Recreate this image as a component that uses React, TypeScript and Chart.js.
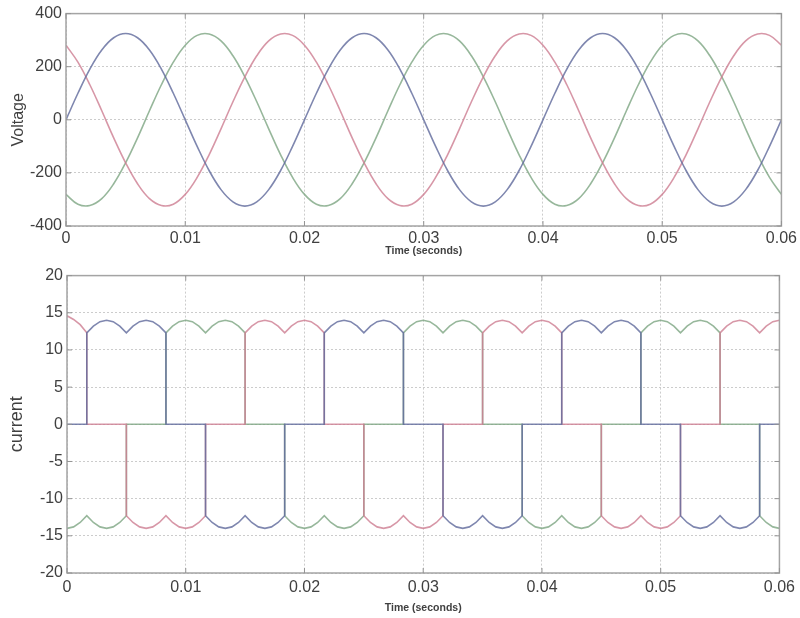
import React, { useEffect, useRef } from "react";
import { Chart, registerables } from "chart.js";

Chart.register(...registerables);

// ---------- Voltage (sampled every 1 ms) ----------
const VOLT_TIME_MS = [
  0, 1, 2, 3, 4, 5, 6, 7, 8, 9, 10, 11, 12, 13, 14, 15, 16, 17, 18, 19,
  20, 21, 22, 23, 24, 25, 26, 27, 28, 29, 30, 31, 32, 33, 34, 35, 36, 37, 38, 39,
  40, 41, 42, 43, 44, 45, 46, 47, 48, 49, 50, 51, 52, 53, 54, 55, 56, 57, 58, 59, 60,
];
// phase a (blue)
const VOLT_A = [
  0, 100, 191, 263, 309, 325, 309, 263, 191, 100, 0, -100, -191, -263, -309, -325, -309, -263, -191, -100,
  0, 100, 191, 263, 309, 325, 309, 263, 191, 100, 0, -100, -191, -263, -309, -325, -309, -263, -191, -100,
  0, 100, 191, 263, 309, 325, 309, 263, 191, 100, 0, -100, -191, -263, -309, -325, -309, -263, -191, -100,
  0,
];
// phase b (red)
const VOLT_B = [
  281, 217, 132, 34, -68, -162, -241, -297, -323, -318, -281, -217, -132, -34, 68, 162, 241, 297, 323, 318,
  281, 217, 132, 34, -68, -162, -241, -297, -323, -318, -281, -217, -132, -34, 68, 162, 241, 297, 323, 318,
  281, 217, 132, 34, -68, -162, -241, -297, -323, -318, -281, -217, -132, -34, 68, 162, 241, 297, 323, 318,
  281,
];
// phase c (green)
const VOLT_C = [
  -281, -318, -323, -297, -241, -162, -68, 34, 132, 217, 281, 318, 323, 297, 241, 162, 68, -34, -132, -217,
  -281, -318, -323, -297, -241, -162, -68, 34, 132, 217, 281, 318, 323, 297, 241, 162, 68, -34, -132, -217,
  -281, -318, -323, -297, -241, -162, -68, 34, 132, 217, 281, 318, 323, 297, 241, 162, 68, -34, -132, -217,
  -281,
];

// ---------- Current (sample instants in electrical degrees, 50 Hz) ----------
const CURRENT_ANGLE_DEG = [
  0, 10, 20,
  30, 30, 40, 50, 60, 70, 80,
  90, 90, 100, 110, 120, 130, 140,
  150, 150, 160, 170, 180, 190, 200,
  210, 210, 220, 230, 240, 250, 260,
  270, 270, 280, 290, 300, 310, 320,
  330, 330, 340, 350, 360, 370, 380,
  390, 390, 400, 410, 420, 430, 440,
  450, 450, 460, 470, 480, 490, 500,
  510, 510, 520, 530, 540, 550, 560,
  570, 570, 580, 590, 600, 610, 620,
  630, 630, 640, 650, 660, 670, 680,
  690, 690, 700, 710, 720, 730, 740,
  750, 750, 760, 770, 780, 790, 800,
  810, 810, 820, 830, 840, 850, 860,
  870, 870, 880, 890, 900, 910, 920,
  930, 930, 940, 950, 960, 970, 980,
  990, 990, 1000, 1010, 1020, 1030, 1040,
  1050, 1050, 1060, 1070, 1080,
];
const CUR_A = [
  0, 0, 0,
  0, 12.3, 13.2, 13.8, 14, 13.8, 13.2,
  12.3, 12.3, 13.2, 13.8, 14, 13.8, 13.2,
  12.3, 0, 0, 0, 0, 0, 0,
  0, -12.3, -13.2, -13.8, -14, -13.8, -13.2,
  -12.3, -12.3, -13.2, -13.8, -14, -13.8, -13.2,
  -12.3, 0, 0, 0, 0, 0, 0,
  0, 12.3, 13.2, 13.8, 14, 13.8, 13.2,
  12.3, 12.3, 13.2, 13.8, 14, 13.8, 13.2,
  12.3, 0, 0, 0, 0, 0, 0,
  0, -12.3, -13.2, -13.8, -14, -13.8, -13.2,
  -12.3, -12.3, -13.2, -13.8, -14, -13.8, -13.2,
  -12.3, 0, 0, 0, 0, 0, 0,
  0, 12.3, 13.2, 13.8, 14, 13.8, 13.2,
  12.3, 12.3, 13.2, 13.8, 14, 13.8, 13.2,
  12.3, 0, 0, 0, 0, 0, 0,
  0, -12.3, -13.2, -13.8, -14, -13.8, -13.2,
  -12.3, -12.3, -13.2, -13.8, -14, -13.8, -13.2,
  -12.3, 0, 0, 0, 0,
];
const CUR_B = [
  14.6, 14.1, 13.4,
  12.3, 0, 0, 0, 0, 0, 0,
  0, -12.3, -13.2, -13.8, -14, -13.8, -13.2,
  -12.3, -12.3, -13.2, -13.8, -14, -13.8, -13.2,
  -12.3, 0, 0, 0, 0, 0, 0,
  0, 12.3, 13.2, 13.8, 14, 13.8, 13.2,
  12.3, 12.3, 13.2, 13.8, 14, 13.8, 13.2,
  12.3, 0, 0, 0, 0, 0, 0,
  0, -12.3, -13.2, -13.8, -14, -13.8, -13.2,
  -12.3, -12.3, -13.2, -13.8, -14, -13.8, -13.2,
  -12.3, 0, 0, 0, 0, 0, 0,
  0, 12.3, 13.2, 13.8, 14, 13.8, 13.2,
  12.3, 12.3, 13.2, 13.8, 14, 13.8, 13.2,
  12.3, 0, 0, 0, 0, 0, 0,
  0, -12.3, -13.2, -13.8, -14, -13.8, -13.2,
  -12.3, -12.3, -13.2, -13.8, -14, -13.8, -13.2,
  -12.3, 0, 0, 0, 0, 0, 0,
  0, 12.3, 13.2, 13.8, 14, 13.8, 13.2,
  12.3, 12.3, 13.2, 13.8, 14,
];
const CUR_C = [
  -14, -13.8, -13.2,
  -12.3, -12.3, -13.2, -13.8, -14, -13.8, -13.2,
  -12.3, 0, 0, 0, 0, 0, 0,
  0, 12.3, 13.2, 13.8, 14, 13.8, 13.2,
  12.3, 12.3, 13.2, 13.8, 14, 13.8, 13.2,
  12.3, 0, 0, 0, 0, 0, 0,
  0, -12.3, -13.2, -13.8, -14, -13.8, -13.2,
  -12.3, -12.3, -13.2, -13.8, -14, -13.8, -13.2,
  -12.3, 0, 0, 0, 0, 0, 0,
  0, 12.3, 13.2, 13.8, 14, 13.8, 13.2,
  12.3, 12.3, 13.2, 13.8, 14, 13.8, 13.2,
  12.3, 0, 0, 0, 0, 0, 0,
  0, -12.3, -13.2, -13.8, -14, -13.8, -13.2,
  -12.3, -12.3, -13.2, -13.8, -14, -13.8, -13.2,
  -12.3, 0, 0, 0, 0, 0, 0,
  0, 12.3, 13.2, 13.8, 14, 13.8, 13.2,
  12.3, 12.3, 13.2, 13.8, 14, 13.8, 13.2,
  12.3, 0, 0, 0, 0, 0, 0,
  0, -12.3, -13.2, -13.8, -14,
];

// ---------- Axes ----------
const TIME_TICKS = [0, 0.01, 0.02, 0.03, 0.04, 0.05, 0.06];
const TIME_TICK_LABELS = ["0", "0.01", "0.02", "0.03", "0.04", "0.05", "0.06"];
const VOLT_TICKS = [-400, -200, 0, 200, 400];
const CUR_TICKS = [-20, -15, -10, -5, 0, 5, 10, 15, 20];

const COLOR_A = "rgba(95,105,155,0.8)";
const COLOR_B = "rgba(205,125,145,0.8)";
const COLOR_C = "rgba(125,165,130,0.8)";

const FONT = "'Liberation Sans', Arial, Helvetica, sans-serif";
const TEXT = "#404040";
const GRID = "#cccccc";

const DEG_TO_S = 0.02 / 360;

const framePlugin = {
  id: "matlabFrame",
  afterDatasetsDraw(chart: any) {
    const { ctx, chartArea, scales } = chart;
    const { left, right, top, bottom } = chartArea;
    ctx.save();
    ctx.strokeStyle = "#a4a4a4";
    ctx.lineWidth = 1.5;
    ctx.setLineDash([]);
    ctx.strokeRect(left, top, right - left, bottom - top);
    ctx.lineWidth = 1;
    ctx.strokeStyle = "#949494";
    ctx.beginPath();
    scales.x.ticks.forEach((t: any) => {
      const x = scales.x.getPixelForValue(t.value);
      ctx.moveTo(x, bottom);
      ctx.lineTo(x, bottom - 5);
      ctx.moveTo(x, top);
      ctx.lineTo(x, top + 5);
    });
    scales.y.ticks.forEach((t: any) => {
      const y = scales.y.getPixelForValue(t.value);
      ctx.moveTo(left, y);
      ctx.lineTo(left + 5, y);
      ctx.moveTo(right, y);
      ctx.lineTo(right - 5, y);
    });
    ctx.stroke();
    ctx.restore();
  },
};

function makeOptions(p: {
  yMin: number;
  yMax: number;
  yTicks: number[];
  yTitle: string;
  yTitleSize: number;
  yTitlePad: number;
  yWidth: number;
  xHeight: number;
  xTitlePad: number;
  xTickPad: number;
  padTop: number;
  padRight: number;
}) {
  return {
    responsive: false,
    animation: false,
    devicePixelRatio: 1,
    layout: { padding: { top: p.padTop, right: p.padRight, left: 0, bottom: 0 } },
    plugins: { legend: { display: false }, tooltip: { enabled: false } },
    elements: { point: { radius: 0 } },
    scales: {
      x: {
        type: "linear",
        min: 0,
        max: 0.06,
        afterBuildTicks: (s: any) => {
          s.ticks = TIME_TICKS.map((v) => ({ value: v }));
        },
        afterFit: (s: any) => {
          s.height = p.xHeight;
        },
        grid: { color: GRID, lineWidth: 1, drawTicks: false },
        border: { display: false, dash: [2, 2] },
        ticks: {
          padding: p.xTickPad,
          color: TEXT,
          autoSkip: false,
          maxRotation: 0,
          font: { family: FONT, size: 16 },
          callback: (v: number) => TIME_TICK_LABELS[TIME_TICKS.indexOf(v)] ?? "",
        },
        title: {
          display: true,
          text: "Time (seconds)",
          color: TEXT,
          font: { family: FONT, size: 10.5, weight: "bold" },
          padding: { top: 0, bottom: p.xTitlePad },
        },
      },
      y: {
        type: "linear",
        min: p.yMin,
        max: p.yMax,
        afterBuildTicks: (s: any) => {
          s.ticks = p.yTicks.map((v) => ({ value: v }));
        },
        afterFit: (s: any) => {
          s.width = p.yWidth;
        },
        grid: { color: GRID, lineWidth: 1, drawTicks: false },
        border: { display: false, dash: [2, 2] },
        ticks: {
          padding: 4,
          color: TEXT,
          autoSkip: false,
          font: { family: FONT, size: 16 },
        },
        title: {
          display: true,
          text: p.yTitle,
          color: TEXT,
          font: { family: FONT, size: p.yTitleSize },
          padding: { top: p.yTitlePad, bottom: 0 },
        },
      },
    },
  } as any;
}

function line(label: string, data: { x: number; y: number }[], color: string, tension: number) {
  return {
    label,
    data,
    borderColor: color,
    borderWidth: 1.6,
    pointRadius: 0,
    fill: false,
    tension,
  };
}

export default function App() {
  const vRef = useRef<HTMLCanvasElement | null>(null);
  const iRef = useRef<HTMLCanvasElement | null>(null);

  useEffect(() => {
    const vt = VOLT_TIME_MS.map((ms) => ms / 1000);
    const it = CURRENT_ANGLE_DEG.map((d) => d * DEG_TO_S);
    const pts = (xs: number[], ys: number[]) => xs.map((x, i) => ({ x, y: ys[i] }));

    const vChart = new Chart(vRef.current as HTMLCanvasElement, {
      type: "line",
      data: {
        datasets: [
          line("Va", pts(vt, VOLT_A), COLOR_A, 0.4),
          line("Vb", pts(vt, VOLT_B), COLOR_B, 0.4),
          line("Vc", pts(vt, VOLT_C), COLOR_C, 0.4),
        ],
      },
      options: makeOptions({
        yMin: -400,
        yMax: 400,
        yTicks: VOLT_TICKS,
        yTitle: "Voltage",
        yTitleSize: 16,
        yTitlePad: 9,
        yWidth: 66,
        xHeight: 36,
        xTitlePad: 5,
        xTickPad: 3,
        padTop: 13,
        padRight: 17,
      }),
      plugins: [framePlugin],
    } as any);

    const iChart = new Chart(iRef.current as HTMLCanvasElement, {
      type: "line",
      data: {
        datasets: [
          line("Ia", pts(it, CUR_A), COLOR_A, 0),
          line("Ib", pts(it, CUR_B), COLOR_B, 0),
          line("Ic", pts(it, CUR_C), COLOR_C, 0),
        ],
      },
      options: makeOptions({
        yMin: -20,
        yMax: 20,
        yTicks: CUR_TICKS,
        yTitle: "current",
        yTitleSize: 18,
        yTitlePad: 6,
        yWidth: 67,
        xHeight: 45,
        xTitlePad: 4,
        xTickPad: 5,
        padTop: 11,
        padRight: 19,
      }),
      plugins: [framePlugin],
    } as any);

    return () => {
      vChart.destroy();
      iChart.destroy();
    };
  }, []);

  return (
    <div style={{ position: "absolute", left: 0, top: 0, width: 800, height: 618, background: "#fff" }}>
      <canvas ref={vRef} width={800} height={262} style={{ position: "absolute", left: 0, top: 0 }} />
      <canvas ref={iRef} width={800} height={356} style={{ position: "absolute", left: 0, top: 262 }} />
    </div>
  );
}
